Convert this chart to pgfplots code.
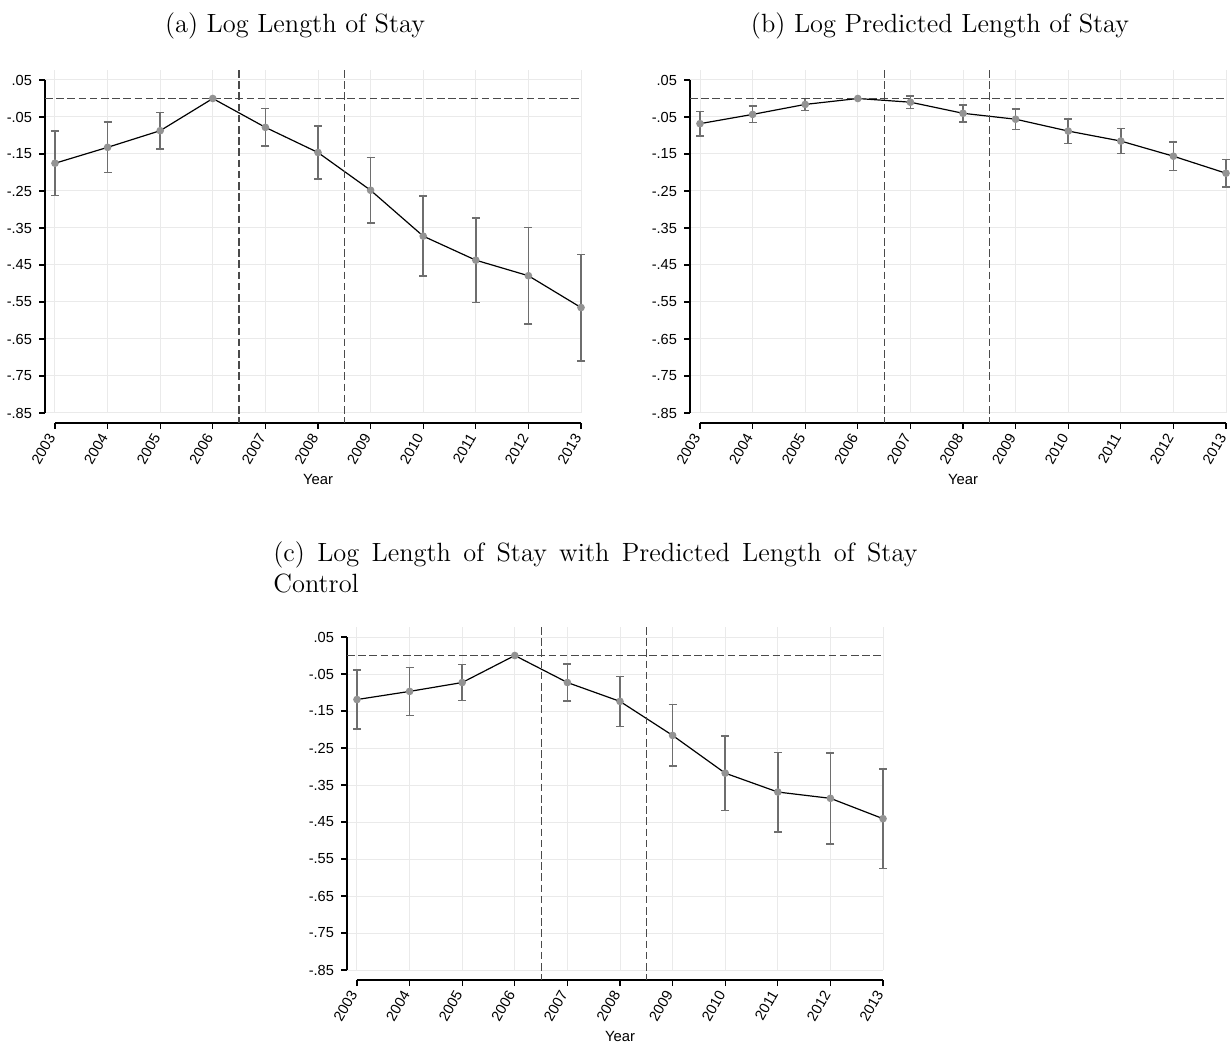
\documentclass[border=0pt]{standalone}
\usepackage{fontspec}
\usepackage{pgfplots}
\usepackage{pgfplotstable}
\pgfplotsset{compat=1.18}
\newfontfamily\arial{Liberation Sans}
\definecolor{gridgray}{HTML}{EAEAEA}
\definecolor{markgray}{HTML}{939393}
\definecolor{ebgray}{HTML}{6E6E6E}
\definecolor{dashgray}{HTML}{4A4A4A}

\pgfplotstableread{
year y err
2003 -0.175 0.087
2004 -0.132 0.068
2005 -0.087 0.049
2006 0.000 0.000
2007 -0.078 0.051
2008 -0.146 0.071
2009 -0.248 0.088
2010 -0.372 0.108
2011 -0.437 0.114
2012 -0.479 0.131
2013 -0.565 0.144
}\dataA

\pgfplotstableread{
year y err
2003 -0.068 0.033
2004 -0.043 0.0225
2005 -0.016 0.016
2006 0.000 0.000
2007 -0.010 0.0165
2008 -0.040 0.023
2009 -0.056 0.028
2010 -0.088 0.033
2011 -0.115 0.034
2012 -0.156 0.038
2013 -0.202 0.037
}\dataB

\pgfplotstableread{
year y err
2003 -0.119 0.080
2004 -0.097 0.065
2005 -0.073 0.0485
2006 0.000 0.000
2007 -0.073 0.050
2008 -0.124 0.0675
2009 -0.216 0.083
2010 -0.318 0.1005
2011 -0.369 0.1075
2012 -0.386 0.123
2013 -0.441 0.134
}\dataC

\tikzset{dl/.style={dashgray, line width=0.6pt, dash pattern=on 3.8pt off 1.8pt}}

\pgfplotsset{
  myaxis/.style={
    scale only axis, width=268pt, height=171.5pt,
    xmin=2002.81, xmax=2013, ymin=-0.85, ymax=0.077,
    clip=false,
    axis x line*=bottom, axis y line*=left,
    axis x line shift=5pt,
    axis line style={draw=none},
    xtick={2003,2004,2005,2006,2007,2008,2009,2010,2011,2012,2013},
    xticklabels={2003,2004,2005,2006,2007,2008,2009,2010,2011,2012,2013},
    ytick={-0.85,-0.75,-0.65,-0.55,-0.45,-0.35,-0.25,-0.15,-0.05,0.05},
    yticklabels={-.85,-.75,-.65,-.55,-.45,-.35,-.25,-.15,-.05,.05},
    tick align=outside, major tick length=3pt,
    tick style={black, line width=0.55pt},
    grid=major, major grid style={gridgray, line width=0.5pt},
    ticklabel style={font=\arial\fontsize{7.3}{8.5}\selectfont},
    xticklabel style={rotate=60, anchor=east},
  },
  eb/.style={forget plot, draw=none, mark=none, skip coords between index={3}{4},
    error bars/.cd, y dir=both, y explicit,
    error bar style={draw=ebgray, line width=0.75pt},
    error mark options={draw=ebgray, rotate=90, mark size=2pt, line width=0.75pt}},
  ln/.style={black, line width=0.6pt, mark=*, mark size=1.6pt,
    mark options={fill=markgray, draw=markgray}},
}

\newcommand\decor{%
  \draw[black, line width=0.55pt] (axis cs:2002.81,0.05) -- (axis cs:2002.81,-0.85);
  \draw[black, line width=0.55pt] ([yshift=-5pt]axis cs:2003,-0.85) -- ([yshift=-5pt]axis cs:2013,-0.85);
  \draw[dl] (axis cs:2002.81,0) -- (axis cs:2013,0);
  \draw[dl] (axis cs:2006.5,0.077) -- ([yshift=-5pt]axis cs:2006.5,-0.85);
  \draw[dl] (axis cs:2008.5,0.077) -- ([yshift=-5pt]axis cs:2008.5,-0.85);
  \node[font=\arial\fontsize{7.4}{9}\selectfont] at ([yshift=-33pt]axis cs:2008,-0.85) {Year};
}

\begin{document}
\begin{tikzpicture}
\useasboundingbox (0,0) rectangle (615.5pt,-521pt);

\begin{axis}[myaxis, at={(22.5pt,-206.5pt)}, anchor=south west]
  \addplot[eb] table[x=year, y=y, y error=err]{\dataA};
  \addplot[ln] table[x=year, y=y]{\dataA};
  \decor
\end{axis}

\begin{axis}[myaxis, at={(345pt,-206.5pt)}, anchor=south west]
  \addplot[eb] table[x=year, y=y, y error=err]{\dataB};
  \addplot[ln] table[x=year, y=y]{\dataB};
  \decor
\end{axis}

\begin{axis}[myaxis, at={(173.5pt,-485pt)}, anchor=south west]
  \addplot[eb] table[x=year, y=y, y error=err]{\dataC};
  \addplot[ln] table[x=year, y=y]{\dataC};
  \decor
\end{axis}

\node[anchor=base, font=\fontsize{13.2}{15.9}\selectfont] at (147.5pt,-16.5pt) {(a) Log Length of Stay};
\node[anchor=base, font=\fontsize{13.2}{15.9}\selectfont] at (470pt,-16.5pt) {(b) Log Predicted Length of Stay};
\node[anchor=north west, inner sep=0pt, text width=322pt, align=justify, font=\fontsize{13.2}{15.9}\selectfont] at (136.5pt,-270.5pt) {(c) Log Length of Stay with Predicted Length of Stay Control};
\end{tikzpicture}
\end{document}
